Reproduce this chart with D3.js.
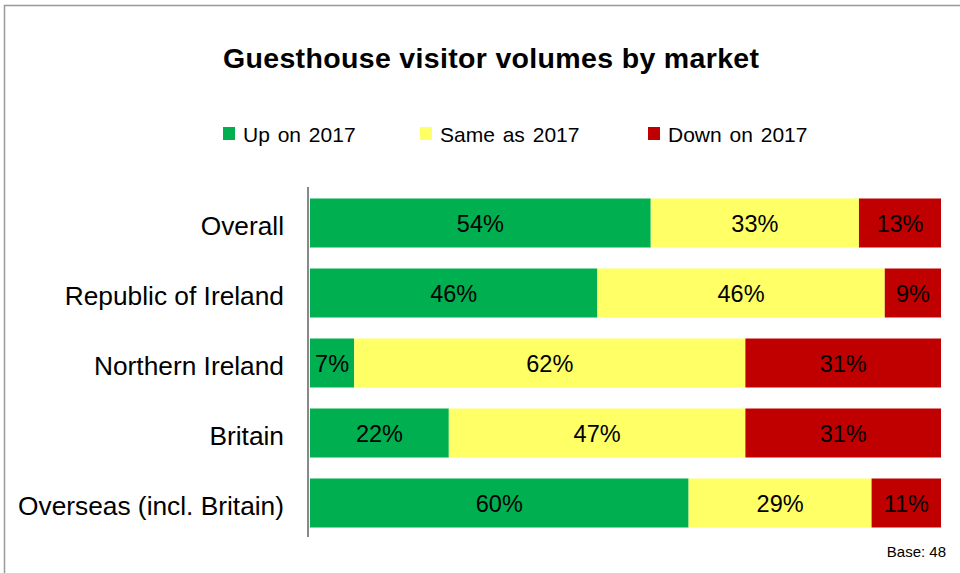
<!DOCTYPE html>
<html><head><meta charset="utf-8">
<script src="https://cdn.jsdelivr.net/npm/d3@7"></script>
<style>body{margin:0;background:#fff}svg{display:block;font-family:"Liberation Sans",Arial,sans-serif}</style>
</head><body>
<svg id="c" width="960" height="573"></svg>
<script>
const categories = ["Overall","Republic of Ireland","Northern Ireland","Britain","Overseas (incl. Britain)"];
const seriesNames = ["Up on 2017","Same as 2017","Down on 2017"];
const upValues = [54,46,7,22,60];
const sameValues = [33,46,62,47,29];
const downValues = [13,9,31,31,11];
const colors = ["#00B050","#FFFF66","#C00000"];

const rows = categories.map((c,i)=>({cat:c, s0:upValues[i], s1:sameValues[i], s2:downValues[i]}));
const keys = ["s0","s1","s2"];
const stack = d3.stack().keys(keys).offset(d3.stackOffsetExpand)(rows);

const svg = d3.select("#c");
svg.append("rect").attr("x",4.5).attr("y",5.5).attr("width",970).attr("height",600)
  .attr("fill","none").attr("stroke","#999").attr("stroke-width",1.5);

const x = d3.scaleLinear().domain([0,1]).range([310,941]);
const y = d3.scaleBand().domain(categories).range([188,538]).paddingInner(0.3).paddingOuter(0.15);

svg.append("text").attr("x",223).attr("y",67.5)
  .attr("font-size",28.5).attr("font-weight","bold").attr("textLength",536).attr("lengthAdjust","spacing")
  .text("Guesthouse visitor volumes by market");

const legX = [223,420,648];
seriesNames.forEach((n,i)=>{
  svg.append("rect").attr("x",legX[i]).attr("y",127).attr("width",12).attr("height",13).attr("fill",colors[i]);
  svg.append("text").attr("x",legX[i]+20).attr("y",141.5).attr("font-size",21).attr("word-spacing",2).text(n);
});

const g = svg.append("g");
stack.forEach((layer,li)=>{
  g.selectAll(null).data(layer).enter().append("rect")
    .attr("x",d=>x(d[0])).attr("width",d=>x(d[1])-x(d[0]))
    .attr("y",d=>y(d.data.cat)).attr("height",y.bandwidth())
    .attr("fill",colors[li]);
  g.selectAll(null).data(layer).enter().append("text")
    .attr("x",d=>(x(d[0])+x(d[1]))/2).attr("y",d=>y(d.data.cat)+y.bandwidth()/2)
    .attr("dy","0.4em").attr("text-anchor","middle").attr("font-size",23.5).attr("fill","#000")
    .text(d=>d.data[keys[li]]+"%");
});

const axis = d3.axisLeft(y).tickSize(0).tickPadding(24);
const ag = svg.append("g").attr("transform","translate(308,0)").call(axis);
ag.select(".domain").attr("stroke","#888").attr("stroke-width",2).attr("d","M0,187V537");
ag.selectAll("text").attr("font-size",26.3).attr("fill","#000").attr("dy","0.44em")
  .attr("font-family","Liberation Sans, Arial, sans-serif");

svg.append("text").attr("x",946).attr("y",557).attr("text-anchor","end").attr("font-size",15).text("Base: 48");
</script>
</body></html>
